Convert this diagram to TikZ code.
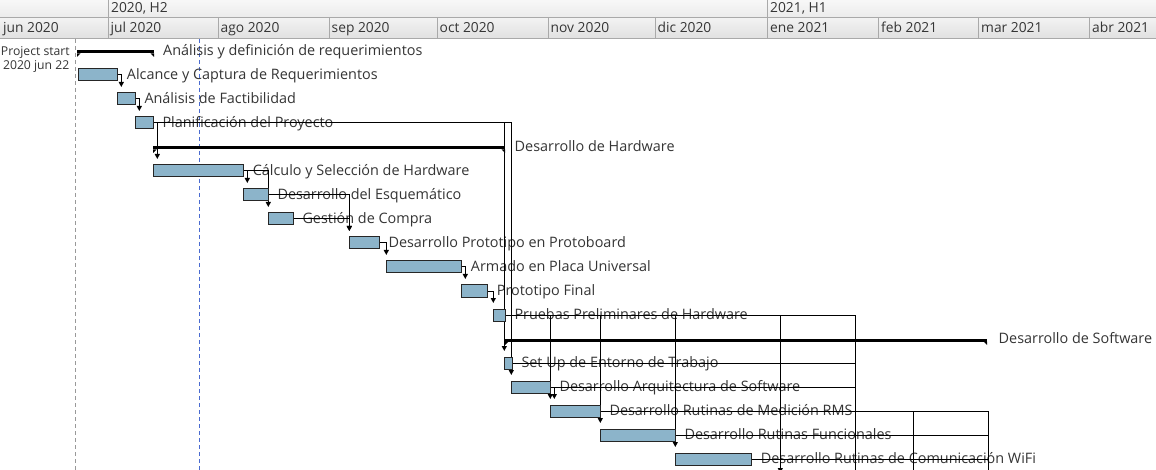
\documentclass[tikz,border=0pt]{standalone}
\usepackage{fontspec}
\setmainfont{Open Sans}
\usetikzlibrary{arrows.meta,calc}
\definecolor{barfill}{HTML}{8CB4CA}
\definecolor{txt}{HTML}{353535}
\definecolor{hdrline}{HTML}{A9A9A9}
\definecolor{todayc}{HTML}{4A6BD0}
\pgfdeclarelayer{back}
\pgfdeclarelayer{labels}
\pgfdeclarelayer{lines}
\pgfsetlayers{back,labels,lines,main}
\tikzset{
 bar/.style={draw=black!85, line width=1pt, fill=barfill, minimum height=12pt, inner sep=0pt, outer sep=0pt, anchor=west},
 sumbar/.style={fill=black, minimum height=3pt, inner sep=0pt, outer sep=0pt, anchor=west},
 lbl/.style={anchor=base west, inner sep=0pt, text=txt, font=\fontsize{14.4}{16}\selectfont},
 hdr/.style={anchor=base west, inner sep=0pt, text=txt, font=\fontsize{13.8}{15}\selectfont},
 psl/.style={anchor=base east, inner sep=0pt, text=txt, font=\fontsize{12.2}{14}\selectfont},
 dep/.style={draw=black, line width=1pt, -{Triangle[width=5pt,length=5pt]}},
 link/.style={draw=black, line width=1pt},
 sep/.style={draw=hdrline, line width=1pt},
 vdash/.style={line width=1pt, dash pattern=on 4pt off 3pt},
}
\begin{document}
\begin{tikzpicture}[x=1pt,y=-1pt]
\useasboundingbox (0,0) rectangle (1156,470);
% ---------- bars ----------
\node[bar, minimum width=39.7pt] (t1) at (78,75) {};
\node[bar, minimum width=18pt] (t2) at (117.3,99) {};
\node[bar, minimum width=18pt] (t3) at (135.3,123) {};
\node[bar, minimum width=90.4pt] (t5) at (153.3,171) {};
\node[bar, minimum width=25pt] (t6) at (243.3,195) {};
\node[bar, minimum width=25pt] (t7) at (268.3,219) {};
\node[bar, minimum width=30pt] (t8) at (349.3,243) {};
\node[bar, minimum width=75.4pt] (t9) at (386.3,267) {};
\node[bar, minimum width=26.4pt] (t10) at (461.3,291) {};
\node[bar, minimum width=12pt] (t11) at (493.3,315) {};
\node[bar, minimum width=8pt] (t13) at (504.3,363) {};
\node[bar, minimum width=39pt] (t14) at (511.3,387) {};
\node[bar, minimum width=50pt] (t15) at (550.3,411) {};
\node[bar, minimum width=75pt] (t16) at (600.3,435) {};
\node[bar, minimum width=76.4pt] (t17) at (675.3,459) {};
% ---------- summary bars ----------
\node[sumbar, minimum width=77pt] (s0) at (77,52) {};
\node[sumbar, minimum width=352pt] (s4) at (153,148) {};
\node[sumbar, minimum width=482pt] (s12) at (505,340) {};
\foreach \s in {s0,s4,s12}{
  \fill (\s.south west) -- ++(3.5,0) -- ++(-3.5,3.5) -- cycle;
  \fill (\s.south east) -- ++(-3.5,0) -- ++(3.5,3.5) -- cycle;
}
% ---------- header, grid ----------
\begin{pgfonlayer}{back}
\fill[white] (0,0) rectangle (1156,470);
\shade[top color=white!97!black, bottom color=white!92!black] (0,0) rectangle (1156,18);
\shade[top color=white!95!black, bottom color=white!88!black] (0,18) rectangle (1156,38.5);
\draw[sep] (0,18) -- (1156,18);
\draw[sep] (0,38.5) -- (1156,38.5);
\foreach \x in {108,767}{\draw[sep] (\x,0) -- (\x,18);}
\foreach \x in {108,218,329,437,548,655,767,878,978,1089}{\draw[sep] (\x,18) -- (\x,38.5);}
\node[hdr] (h1) at (111,12.5) {2020, H2};
\node[hdr] (h2) at (770,12.5) {2021, H1};
\node[hdr] (m1) at (3,33) {jun 2020};
\node[hdr] (m2) at (110.5,33) {jul 2020};
\node[hdr] (m3) at (220.5,33) {ago 2020};
\node[hdr] (m4) at (331.5,33) {sep 2020};
\node[hdr] (m5) at (439.5,33) {oct 2020};
\node[hdr] (m6) at (550.5,33) {nov 2020};
\node[hdr] (m7) at (657.5,33) {dic 2020};
\node[hdr] (m8) at (770,33) {ene 2021};
\node[hdr] (m9) at (881,33) {feb 2021};
\node[hdr] (m10) at (981,33) {mar 2021};
\node[hdr] (m11) at (1092,33) {abr 2021};
\draw[vdash, gray!80] (75.5,39) -- (75.5,470);
\draw[vdash, todayc] (199.3,39) -- (199.3,470);
\node[psl] (ps1) at (70,55.5) {Project start};
\node[psl] (ps2) at (69.5,70) {2020 jun 22};
\end{pgfonlayer}
% ---------- labels ----------
\begin{pgfonlayer}{labels}
\node[lbl] (l0) at ($(s0.east)+(9,3.5)$) {Análisis y definición de requerimientos};
\node[lbl] (l1) at ($(t1.east)+(9,4.5)$) {Alcance y Captura de Requerimientos};
\node[lbl] (l2) at ($(t2.east)+(9,4.5)$) {Análisis de Factibilidad};
\node[lbl] (l3) at ($(t3.east)+(9,4.5)$) {Planificación del Proyecto};
\node[lbl] (l4) at ($(s4.east)+(9.5,3.5)$) {Desarrollo de Hardware};
\node[lbl] (l5) at ($(t5.east)+(9,4.5)$) {Cálculo y Selección de Hardware};
\node[lbl] (l6) at ($(t6.east)+(9,4.5)$) {Desarrollo del Esquemático};
\node[lbl] (l7) at ($(t7.east)+(9,4.5)$) {Gestión de Compra};
\node[lbl] (l8) at ($(t8.east)+(9,4.5)$) {Desarrollo Prototipo en Protoboard};
\node[lbl] (l9) at ($(t9.east)+(9,4.5)$) {Armado en Placa Universal};
\node[lbl] (l10) at ($(t10.east)+(9,4.5)$) {Prototipo Final};
\node[lbl] (l11) at ($(t11.east)+(9,4.5)$) {Pruebas Preliminares de Hardware};
\node[lbl] (l12) at ($(s12.east)+(11.5,3.5)$) {Desarrollo de Software};
\node[lbl] (l13) at ($(t13.east)+(9,4.5)$) {Set Up de Entorno de Trabajo};
\node[lbl] (l14) at ($(t14.east)+(9,4.5)$) {Desarrollo Arquitectura de Software};
\node[lbl] (l15) at ($(t15.east)+(9,4.5)$) {Desarrollo Rutinas de Medición RMS};
\node[lbl] (l16) at ($(t16.east)+(9,4.5)$) {Desarrollo Rutinas Funcionales};
\node[lbl] (l17) at ($(t17.east)+(9,4.5)$) {Desarrollo Rutinas de Comunicación WiFi};
\end{pgfonlayer}
% ---------- connectors ----------
\coordinate (o780) at (780.3,473);
\coordinate (o855) at (855,476);
\coordinate (o913) at (913.3,476);
\coordinate (o988) at (988,476);
\begin{pgfonlayer}{lines}
\draw[dep] (t1.east) -| ([xshift=4pt,yshift=6pt]t2.north west);
\draw[dep] (t2.east) -| ([xshift=4pt,yshift=6pt]t3.north west);
\draw[dep] (t3.east) -| ([xshift=4pt,yshift=6pt]t5.north west);
\draw[dep] (t3.east) -| ([yshift=6pt]t13.north west);
\draw[dep] (t3.east) -| ([yshift=6pt]t14.north west);
\draw[dep] (t5.east) -| ([xshift=4pt,yshift=6pt]t6.north west);
\draw[dep] (t5.east) -| ([yshift=6pt]t7.north west);
\draw[dep] (t6.east) -| ([yshift=6pt]t8.north west);
\draw[dep] (t7.east) -| ([yshift=6pt]t8.north west);
\draw[dep] (t8.east) -| ([yshift=6pt]t9.north west);
\draw[dep] (t9.east) -| ([xshift=4pt,yshift=6pt]t10.north west);
\draw[dep] (t10.east) -| ([yshift=6pt]t11.north west);
\draw[dep] (t11.east) -| ([yshift=6pt]t15.north west);
\draw[dep] (t11.east) -| ([yshift=6pt]t16.north west);
\draw[dep] (t11.east) -| ([yshift=6pt]t17.north west);
\draw[dep] (t14.east) -| ([xshift=4pt,yshift=6pt]t15.north west);
\draw[dep] (t11.east) -| (o780);
\draw[link] (t11.east) -| (o855);
\draw[link] (t13.east) -| (o855);
\draw[link] (t14.east) -| (o855);
\draw[link] (t15.east) -| (o913);
\draw[link] (t15.east) -| (o988);
\draw[link] (t16.east) -| (o988);
\draw[link] (t17.east) -| (o988);
\end{pgfonlayer}
\end{tikzpicture}
\end{document}
